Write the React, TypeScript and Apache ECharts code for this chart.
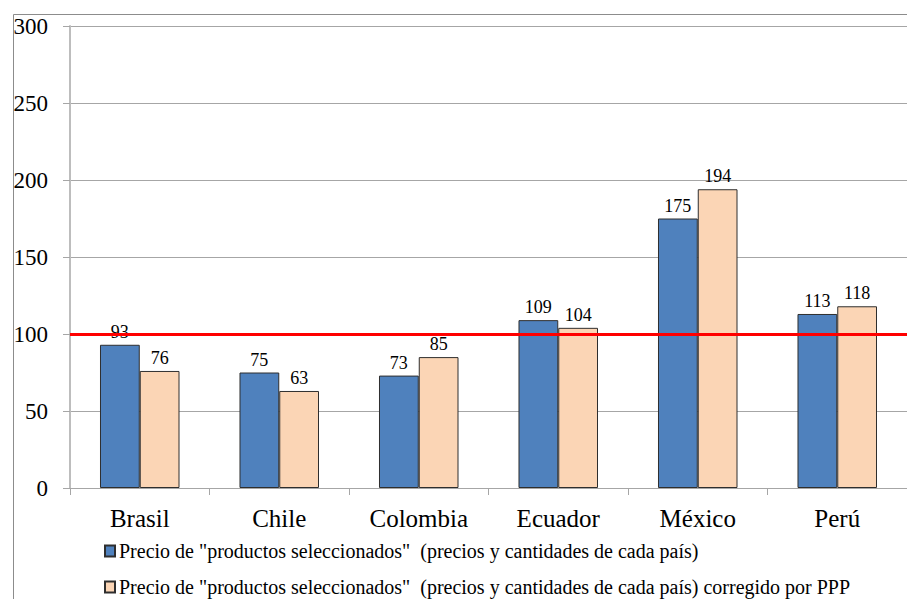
import React, { useEffect, useRef } from "react";
import * as echarts from "echarts";

const categories = ["Brasil", "Chile", "Colombia", "Ecuador", "México", "Perú"];
const seriesNames = [
  'Precio de "productos seleccionados"  (precios y cantidades de cada país)',
  'Precio de "productos seleccionados"  (precios y cantidades de cada país) corregido por PPP',
];
const precioValues = [93, 75, 73, 109, 175, 113];
const pppValues = [76, 63, 85, 104, 194, 118];
const referenceLine = 100;
const yMin = 0;
const yMax = 300;
const yInterval = 50;

const SERIF = "'Liberation Serif', 'Times New Roman', serif";

export default function App() {
  const ref = useRef<HTMLDivElement>(null);
  useEffect(() => {
    if (!ref.current) return;
    const chart = echarts.init(ref.current, undefined, { renderer: "svg" });
    const labelCommon = {
      show: true,
      position: "top",
      distance: 4,
      fontSize: 18,
      color: "#000",
      fontFamily: SERIF,
    };
    const legendCommon = {
      orient: "horizontal",
      left: 99,
      itemWidth: 10,
      itemHeight: 11,
      itemGap: 4,
      icon: "rect",
      textStyle: { fontSize: 20, color: "#000", fontFamily: SERIF, padding: [0, 0, 0, -1] },
    };
    chart.setOption({
      animation: false,
      backgroundColor: "#fff",
      graphic: [
        {
          type: "rect",
          left: 11,
          top: 12,
          shape: { width: 1200, height: 800 },
          style: { fill: "none", stroke: "#8c8c8c", lineWidth: 1 },
          silent: true,
          z: -1,
        },
      ],
      grid: { left: 70, right: -9, top: 26, bottom: 111, containLabel: false },
      legend: [
        { ...legendCommon, top: 536, data: [seriesNames[0]] },
        { ...legendCommon, top: 572, data: [seriesNames[1]] },
      ],
      xAxis: {
        type: "category",
        data: categories,
        axisLine: { show: true, lineStyle: { color: "#a6a6a6", width: 1 } },
        axisTick: { show: true, length: 7, alignWithLabel: false, lineStyle: { color: "#a6a6a6" } },
        axisLabel: { fontSize: 25, color: "#000", margin: 18, fontFamily: SERIF },
      },
      yAxis: {
        type: "value",
        min: yMin,
        max: yMax,
        interval: yInterval,
        axisLine: { show: true, lineStyle: { color: "#bdbdbd", width: 2 } },
        axisTick: { show: true, length: 7, inside: false, lineStyle: { color: "#a6a6a6" } },
        axisLabel: { fontSize: 23, color: "#000", margin: 22, fontFamily: SERIF },
        splitLine: { show: true, lineStyle: { color: "#a6a6a6", width: 1 } },
      },
      series: [
        {
          name: seriesNames[0],
          type: "bar",
          data: precioValues,
          barGap: "0%",
          barCategoryGap: "43%",
          itemStyle: { color: "#4f81bd", borderColor: "#2e2e2e", borderWidth: 1 },
          label: labelCommon,
        },
        {
          name: seriesNames[1],
          type: "bar",
          data: pppValues,
          barGap: "0%",
          barCategoryGap: "43%",
          itemStyle: { color: "#fbd5b5", borderColor: "#2e2e2e", borderWidth: 1 },
          label: labelCommon,
          markLine: {
            silent: true,
            symbol: "none",
            label: { show: false },
            lineStyle: { color: "#ff0000", width: 3, type: "solid" },
            data: [{ yAxis: referenceLine }],
            z: 10,
          },
        },
      ],
    });
    return () => chart.dispose();
  }, []);
  return (
    <div
      ref={ref}
      style={{ position: "absolute", left: 0, top: 0, width: 907, height: 599, overflow: "hidden" }}
    />
  );
}
